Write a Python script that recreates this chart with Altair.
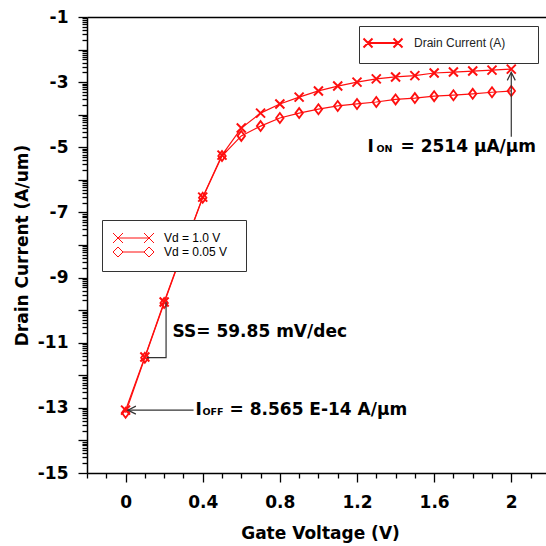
import altair as alt
import pandas as pd
import numpy as np

# ---------------- data ----------------
gate_v = [0.0, 0.1, 0.2, 0.3, 0.4, 0.5, 0.6, 0.7, 0.8, 0.9, 1.0,
          1.1, 1.2, 1.3, 1.4, 1.5, 1.6, 1.7, 1.8, 1.9, 2.0]
log_id_vd10 = [-13.07, -11.44, -9.75, -8.12, -6.53, -5.24, -4.41, -3.95, -3.67, -3.46, -3.27,
               -3.12, -3.00, -2.90, -2.84, -2.80, -2.72, -2.69, -2.66, -2.63, -2.60]
log_id_vd005 = [-13.15, -11.46, -9.78, -8.14, -6.55, -5.27, -4.65, -4.35, -4.10, -3.95, -3.83,
                -3.73, -3.67, -3.61, -3.53, -3.49, -3.43, -3.40, -3.36, -3.31, -3.27]
series_names = ["Vd = 1.0 V", "Vd = 0.05 V"]
legend2_name = "Drain Current (A)"

# annotation texts (text, x, y in data units, font size)
ann_text = ["SS= 59.85 mV/dec", "I", "ON", "= 2514 \u00b5A/\u00b5m", "I", "OFF", "= 8.565 E-14 A/\u00b5m"]
ann_x = [0.2437, 1.2546, 1.3013, 1.4256, 0.3629, 0.3990, 0.5390]
ann_y = [-10.825, -5.145, -5.145, -5.145, -13.22, -13.22, -13.22]
ann_size = [17, 17, 9.5, 17, 17, 9.5, 17]

# annotation guide lines
guide_id = ["on", "on", "off", "off", "ss", "ss", "ss"]
guide_x = [2.0, 2.0, 0.012, 0.3525, 0.21, 0.21, 0.11]
guide_y = [-2.70, -4.68, -13.07, -13.07, -9.75, -11.46, -11.46]
# arrow heads
head_x = [2.0, 0.012]
head_y = [-2.70, -13.07]
head_dir = ["up", "left"]

# axis ticks
x_ticks = [round(-0.2 + 0.1 * i, 1) for i in range(24)]
y_ticks = sorted([float(n) + float(np.log10(k)) for n in range(-15, -1) for k in range(1, 10)] + [-1.0])

# ---------------- tables ----------------
df = pd.DataFrame({
    "vg": gate_v * 2,
    "logid": log_id_vd10 + log_id_vd005,
    "series": [series_names[0]] * len(gate_v) + [series_names[1]] * len(gate_v),
})
df["leg2"] = legend2_name
ann = pd.DataFrame({"text": ann_text, "x": ann_x, "y": ann_y, "size": ann_size})
guides = pd.DataFrame({"gid": guide_id, "x": guide_x, "y": guide_y, "ord": list(range(len(guide_x)))})
heads = pd.DataFrame({"x": head_x, "y": head_y, "dir": head_dir})

RED = "#ff0f0f"
FONT = "DejaVu Sans"

xscale = alt.Scale(domain=[-0.2, 2.18], nice=False, zero=False)
yscale = alt.Scale(domain=[-15, -1], nice=False, zero=False)

x_major = "abs(datum.value/0.4 - round(datum.value/0.4)) < 1e-6"
y_major = "abs(datum.value - round(datum.value)) < 1e-6"

x_axis = alt.Axis(
    values=x_ticks, title="Gate Voltage (V)", grid=False,
    labelExpr=f"{x_major} ? '' + datum.value : ''",
    tickSize={"condition": {"test": x_major, "value": 9}, "value": 5},
    tickColor="black", domainColor="black", domainWidth=1.5, tickWidth=1.3,
    labelFont=FONT, labelFontSize=17, labelFontWeight="bold", labelColor="black",
    labelPadding=12, labelFlush=False, labelOverlap=False, labelBound=False,
    titleFont=FONT, titleFontSize=17, titleFontWeight="bold", titleColor="black",
    titleY=60, titleBaseline="middle", titleX=233,
)
x_top = alt.Axis(orient="top", ticks=False, labels=False, title=None, grid=False,
                 domainColor="black", domainWidth=1.5)
y_axis = alt.Axis(
    values=y_ticks, title="Drain Current (A/um)", grid=False,
    labelExpr=f"{y_major} && abs(round(datum.value)) % 2 == 1 ? '' + round(datum.value) : ''",
    tickSize={"condition": {"test": y_major, "value": 9}, "value": 5},
    tickColor="black", domainColor="black", domainWidth=1.5, tickWidth=1.3,
    labelFont=FONT, labelFontSize=17, labelFontWeight="bold", labelColor="black",
    labelPadding=10, labelOverlap=False, labelBound=False, labelFlush=False,
    titleFont=FONT, titleFontSize=17, titleFontWeight="bold", titleColor="black",
    titleX=-65, titleBaseline="middle",
)

base = alt.Chart(df)

lines = base.mark_line(color=RED, strokeWidth=1.2).encode(
    x=alt.X("vg:Q", scale=xscale, axis=x_axis),
    y=alt.Y("logid:Q", scale=yscale, axis=y_axis),
    detail="series:N",
)

X_PATH = "M-1,-1L1,1M-1,1L1,-1"
D_PATH = "M-0.75,0L0,-1L0.75,0L0,1Z"

crosses = base.transform_filter(alt.datum.series == series_names[0]).mark_point(
    shape=X_PATH, size=81, color=RED, strokeWidth=2, filled=False, opacity=1
).encode(
    x=alt.X("vg:Q", scale=xscale, axis=x_top),
    y=alt.Y("logid:Q", scale=yscale, axis=y_axis),
)

diamonds = base.transform_filter(alt.datum.series == series_names[1]).mark_point(
    shape=D_PATH, size=100, color=RED, strokeWidth=1.8, filled=False, opacity=1
).encode(
    x=alt.X("vg:Q", scale=xscale, axis=None),
    y=alt.Y("logid:Q", scale=yscale, axis=y_axis),
)

# legend symbol paths (line with a marker at each end); the trailing tiny
# segment only widens the legend frame to the right
LEG1_CROSS = "M-3.1,0L3.1,0M-4.1,-1L-2.1,1M-4.1,1L-2.1,-1M2.1,-1L4.1,1M2.1,1L4.1,-1M19.7,0L19.7,0.001"
LEG1_DIAM = "M-4.1,0L-3.1,-1L-2.1,0L-3.1,1ZM2.1,0L3.1,-1L4.1,0L3.1,1ZM-2.1,0L2.1,0M19.7,0L19.7,0.001"
LEG2_CROSS = "M-3,0L3,0M-3.9,-0.9L-2.1,0.9M-3.9,0.9L-2.1,-0.9M2.1,-0.9L3.9,0.9M2.1,0.9L3.9,-0.9M28.0,0L28.0,0.001"

legend1 = base.mark_point(opacity=0, filled=False, color=RED).encode(
    x=alt.X("vg:Q", scale=xscale, axis=None),
    y=alt.Y("logid:Q", scale=yscale, axis=y_axis),
    shape=alt.Shape("series:N", scale=alt.Scale(domain=series_names, range=[LEG1_CROSS, LEG1_DIAM]),
                    legend=alt.Legend(
                        title=None, orient="none", legendX=15, legendY=203,
                        padding=12, strokeColor="#333333", fillColor="white",
                        symbolSize=100, symbolStrokeColor=RED, symbolFillColor="transparent",
                        symbolStrokeWidth=1, symbolOpacity=1, symbolOffset=13.5,
                        labelFont="Liberation Sans", labelFontSize=12, labelColor="black",
                        labelOffset=24.5, rowPadding=0,
                    )),
)

legend2 = base.mark_point(opacity=0, filled=False, color=RED).encode(
    x=alt.X("vg:Q", scale=xscale, axis=None),
    y=alt.Y("logid:Q", scale=yscale, axis=y_axis),
    shape=alt.Shape("leg2:N", scale=alt.Scale(domain=[legend2_name], range=[LEG2_CROSS]),
                    legend=alt.Legend(
                        title=None, orient="none", legendX=272, legendY=9,
                        padding=11, strokeColor="#333333", fillColor="white",
                        symbolSize=100, symbolStrokeColor=RED, symbolFillColor="transparent",
                        symbolStrokeWidth=2, symbolOpacity=1, symbolOffset=7,
                        labelFont="Liberation Sans", labelFontSize=12, labelColor="#222222",
                        labelOffset=25,
                    )),
)

guide_lines = alt.Chart(guides).mark_line(color="#333333", strokeWidth=1.2).encode(
    x=alt.X("x:Q", scale=xscale, axis=None),
    y=alt.Y("y:Q", scale=yscale, axis=y_axis),
    detail="gid:N",
    order="ord:Q",
)

UP_HEAD = "M-0.5,1L0,0L0.5,1"
LEFT_HEAD = "M1,-0.5L0,0L1,0.5"
head_up = alt.Chart(heads).transform_filter(alt.datum.dir == "up").mark_point(
    shape=UP_HEAD, size=256, color="#333333", strokeWidth=1.2, filled=False, opacity=1
).encode(
    x=alt.X("x:Q", scale=xscale, axis=None),
    y=alt.Y("y:Q", scale=yscale, axis=y_axis),
)
head_left = alt.Chart(heads).transform_filter(alt.datum.dir == "left").mark_point(
    shape=LEFT_HEAD, size=256, color="#333333", strokeWidth=1.2, filled=False, opacity=1
).encode(
    x=alt.X("x:Q", scale=xscale, axis=None),
    y=alt.Y("y:Q", scale=yscale, axis=y_axis),
)

texts = alt.Chart(ann).mark_text(
    align="left", baseline="alphabetic", font=FONT, fontWeight="bold", color="black"
).encode(
    x=alt.X("x:Q", scale=xscale, axis=None),
    y=alt.Y("y:Q", scale=yscale, axis=y_axis),
    text="text:N",
    size=alt.Size("size:Q", scale=None),
)

chart = alt.layer(
    lines, crosses, diamonds, legend1, legend2, guide_lines, head_up, head_left, texts
).resolve_scale(shape="independent").resolve_axis(x="independent").properties(
    width=459, height=456,
    autosize=alt.AutoSizeParams(type="none"),
    padding={"left": 87, "top": 17, "right": 0, "bottom": 73},
    background="white",
).configure_view(stroke=None)

chart.save("out.html", embed_options={"renderer": "svg", "actions": False})
